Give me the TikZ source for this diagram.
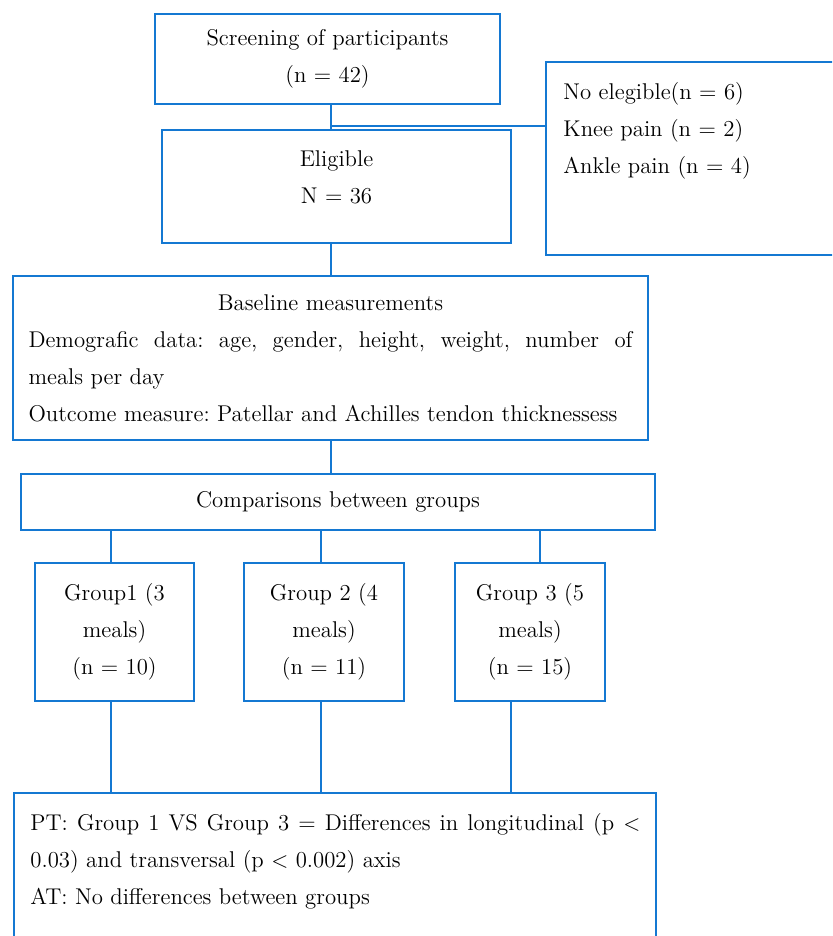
\documentclass[tikz,border=0pt]{standalone}
\usepackage{tikz}
\usetikzlibrary{positioning}
\setlength{\parindent}{0pt}
\frenchspacing
\definecolor{flowblue}{RGB}{20,120,210}
\tikzset{
  box/.style={draw=flowblue, line width=1pt, inner sep=0pt, outer sep=0pt},
  txt/.style={inner sep=0pt, font=\fontsize{11.4}{18.5}\selectfont},
  link/.style={draw=flowblue, line width=1pt},
}

\begin{document}
\begin{tikzpicture}[x=0.5pt,y=-0.5pt, every node/.style={txt}]
\clip (0,0) rectangle (832,936);

% boxes of the flow
\node[box, minimum width=172.5pt, minimum height=45pt, align=center] (scr) at (327.5,59) {Screening of participants\\(n = 42)};
\node[box, minimum width=147pt, minimum height=96.5pt] (exc) at (693,158.5) {};
\node[below right=10pt and 8.5pt of exc.north west, align=left] (exctext) {No elegible(n = 6)\\Knee pain (n = 2)\\Ankle pain (n = 4)};
\node[box, minimum width=174.5pt, minimum height=56.5pt] (elig) at (336.5,186.5) {};
\node[below=10pt of elig.north, align=center] (eligtext) {Eligible\\N = 36};
\node[box, minimum width=317.5pt, minimum height=82pt, text width=302pt, align=justify] (base) at (330.5,358) {%
  {\centering Baseline measurements\par}
  Demografic data: age, gender, height, weight, number of\linebreak meals per day\\
  Outcome measure: Patellar and Achilles tendon thicknessess};
\node[box, minimum width=317pt, minimum height=28pt] (comp) at (338,502) {Comparisons between groups};
\node[box, minimum width=79.5pt, minimum height=69pt, align=center] (g1) at (114.5,632) {Group1 (3\\meals)\\(n = 10)};
\node[box, minimum width=80pt, minimum height=69pt, align=center] (g2) at (324,632) {Group 2 (4\\meals)\\(n = 11)};
\node[box, minimum width=75pt, minimum height=69pt, align=center] (g3) at (530,632) {Group 3 (5\\meals)\\(n = 15)};
\node[box, minimum width=321pt, minimum height=78.5pt] (res) at (335,871.5) {};
\node[below right=10pt and 8pt of res.north west, text width=305pt, align=justify] (restext) {%
  PT: Group 1 VS Group 3 = Differences in longitudinal (p $<$\linebreak
  0.03) and transversal (p $<$ 0.002) axis\\
  AT: No differences between groups};

% connectors
\coordinate (fork) at ([yshift=2pt]elig.north -| base.north);
\draw[link] (scr.south -| base.north) -- (elig.north -| base.north);
\draw[link] (fork) -- (fork -| exc.west);
\draw[link] (elig.south -| base.north) -- (base.north);
\draw[link] (base.south) -- (comp.north -| base.south);
\draw[link] ([xshift=-1.75pt]g1.north) -- ([xshift=-1.75pt]g1.north |- comp.south);
\draw[link] ([xshift=-1.5pt]g2.north) -- ([xshift=-1.5pt]g2.north |- comp.south);
\draw[link] ([xshift=5pt]g3.north) -- ([xshift=5pt]g3.north |- comp.south);
\draw[link] ([xshift=-1.75pt]g1.south) -- ([xshift=-1.75pt]g1.south |- res.north);
\draw[link] ([xshift=-1.5pt]g2.south) -- ([xshift=-1.5pt]g2.south |- res.north);
\draw[link] ([xshift=-9.5pt]g3.south) -- ([xshift=-9.5pt]g3.south |- res.north);
\end{tikzpicture}
\end{document}
